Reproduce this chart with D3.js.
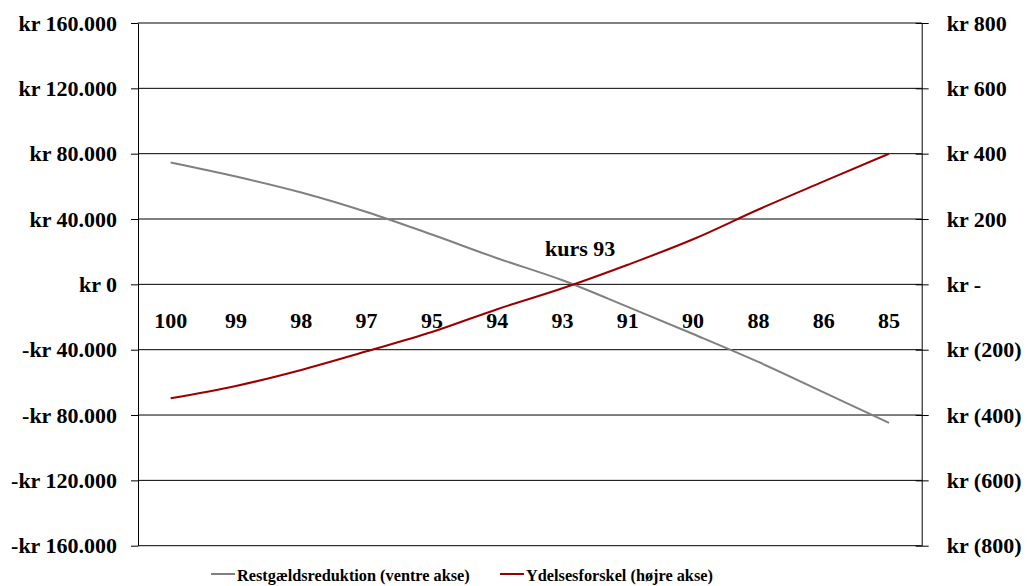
<!DOCTYPE html>
<html>
<head>
<meta charset="utf-8">
<script src="https://cdn.jsdelivr.net/npm/d3@7/dist/d3.min.js"></script>
<style>
  html, body { margin: 0; padding: 0; background: #fff; }
  svg { display: block; font-family: "Liberation Serif", "Times New Roman", serif; font-weight: bold; }
</style>
</head>
<body>
<svg id="chart" width="1027" height="586"></svg>
<script>
// Kurs (price) categories along the x axis
const categories = ["100", "99", "98", "97", "95", "94", "93", "91", "90", "88", "86", "85"];

// Reduction of remaining debt, kr (left axis)
const restgaeld = [74600, 66000, 56200, 44300, 30500, 16000, 2500, -13800, -30400, -47500, -66100, -84800];

// Payment difference, kr (right axis)
const ydelse = [-349, -311, -262, -205, -146, -76, -12, 60, 138, 229, 315, 400];

// Axis ticks and their labels
const leftTicks = [160000, 120000, 80000, 40000, 0, -40000, -80000, -120000, -160000];
const leftTickLabels = ["kr 160.000", "kr 120.000", "kr 80.000", "kr 40.000", "kr 0",
                        "-kr 40.000", "-kr 80.000", "-kr 120.000", "-kr 160.000"];
const rightTicks = [800, 600, 400, 200, 0, -200, -400, -600, -800];
const rightTickLabels = ["kr 800", "kr 600", "kr 400", "kr 200", "kr -",
                         "kr (200)", "kr (400)", "kr (600)", "kr (800)"];

const seriesNames = ["Restgældsreduktion (ventre akse)", "Ydelsesforskel (højre akse)"];
const annotation = { category: "93", text: "kurs 93" };

const svg = d3.select("#chart");
const W = 1027, H = 586;
const margin = { top: 23, right: 105.3, bottom: 40.3, left: 138 };
const w = W - margin.left - margin.right;
const h = H - margin.top - margin.bottom;

const g = svg.append("g").attr("transform", `translate(${margin.left},${margin.top})`);

const x = d3.scalePoint().domain(categories).range([0, w]).padding(0.5);
const yL = d3.scaleLinear().domain([-160000, 160000]).range([h, 0]);
const yR = d3.scaleLinear().domain([-800, 800]).range([h, 0]);

// Horizontal gridlines
g.append("g").selectAll("line").data(leftTicks).join("line")
  .attr("x1", 0).attr("x2", w)
  .attr("y1", d => yL(d)).attr("y2", d => yL(d))
  .attr("stroke", "#000").attr("stroke-width", 1);

// Left axis
const leftAxis = d3.axisLeft(yL)
  .tickValues(leftTicks)
  .tickSize(7)
  .tickSizeOuter(0)
  .tickPadding(14)
  .tickFormat((d, i) => leftTickLabels[i]);
const gl = g.append("g").call(leftAxis);
gl.select(".domain").attr("stroke", "#000");
gl.selectAll(".tick line").attr("stroke", "#000");
gl.selectAll(".tick text")
  .attr("font-family", "Liberation Serif, Times New Roman, serif")
  .attr("font-weight", "bold").attr("font-size", 22).attr("fill", "#000");

// Right axis
const rightAxis = d3.axisRight(yR)
  .tickValues(rightTicks)
  .tickSize(7)
  .tickSizeOuter(0)
  .tickPadding(18)
  .tickFormat((d, i) => rightTickLabels[i]);
const gr = g.append("g").attr("transform", `translate(${w},0)`).call(rightAxis);
gr.select(".domain").attr("stroke", "#000");
gr.selectAll(".tick line").attr("stroke", "#000").attr("x1", -6);
gr.selectAll(".tick text")
  .attr("font-family", "Liberation Serif, Times New Roman, serif")
  .attr("font-weight", "bold").attr("font-size", 22).attr("fill", "#000");

// Category labels just below the zero line
g.append("g").selectAll("text").data(categories).join("text")
  .attr("x", d => x(d))
  .attr("y", yL(0) + 43.4)
  .attr("text-anchor", "middle")
  .attr("font-size", 22)
  .attr("fill", "#000")
  .text(d => d);

// Lines
const lineL = d3.line()
  .x((d, i) => x(categories[i]))
  .y(d => yL(d))
  .curve(d3.curveMonotoneX);
const lineR = d3.line()
  .x((d, i) => x(categories[i]))
  .y(d => yR(d))
  .curve(d3.curveMonotoneX);

g.append("path").datum(restgaeld)
  .attr("d", lineL)
  .attr("fill", "none")
  .attr("stroke", "#808080")
  .attr("stroke-width", 2);

g.append("path").datum(ydelse)
  .attr("d", lineR)
  .attr("fill", "none")
  .attr("stroke", "#990000")
  .attr("stroke-width", 2);

// Annotation at the crossing
g.append("text")
  .attr("x", x(annotation.category) - 17.5)
  .attr("y", yL(0) - 28.3)
  .attr("font-size", 22)
  .attr("fill", "#000")
  .text(annotation.text);

// Legend
const legendColors = ["#808080", "#990000"];
const legendX = [211, 500];
const legend = svg.append("g");
seriesNames.forEach((name, i) => {
  legend.append("line")
    .attr("x1", legendX[i]).attr("x2", legendX[i] + 24)
    .attr("y1", 574).attr("y2", 574)
    .attr("stroke", legendColors[i]).attr("stroke-width", 2);
  legend.append("text")
    .attr("x", legendX[i] + 26)
    .attr("y", 581)
    .attr("font-size", 16.3)
    .attr("fill", "#000")
    .text(name);
});
</script>
</body>
</html>
